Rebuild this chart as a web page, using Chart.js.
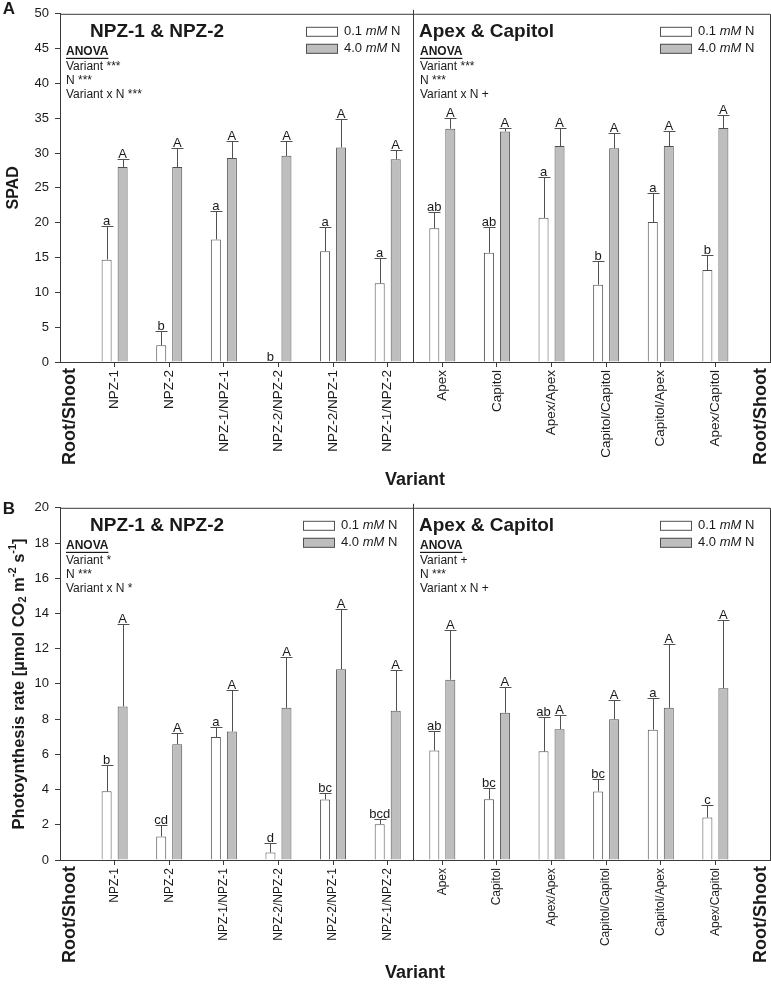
<!DOCTYPE html>
<html>
<head>
<meta charset="utf-8">
<script src="https://cdn.jsdelivr.net/npm/chart.js@4"></script>
<style>
  html, body { margin: 0; padding: 0; background: #fff; }
  canvas { display: block; }
</style>
</head>
<body>
<canvas id="spad-chart" width="771" height="494"></canvas>
<canvas id="photo-chart" width="771" height="493"></canvas>
<script>
// categories (first / last are the bold Root/Shoot markers, no data)
const variants = ['Root/Shoot', 'NPZ-1', 'NPZ-2', 'NPZ-1/NPZ-1', 'NPZ-2/NPZ-2', 'NPZ-2/NPZ-1', 'NPZ-1/NPZ-2',
  'Apex', 'Capitol', 'Apex/Apex', 'Capitol/Capitol', 'Capitol/Apex', 'Apex/Capitol', 'Root/Shoot'];

// panel A - SPAD
const spadLow = [null, 14.7, 2.4, 17.6, 0, 15.9, 11.3, 19.2, 15.7, 20.7, 11.1, 20.1, 13.2, null];
const spadLowErr = [null, 4.9, 2.0, 4.1, 0, 3.5, 3.6, 2.3, 3.7, 5.9, 3.4, 4.1, 2.1, null];
const spadLowLetters = ['', 'a', 'b', 'a', 'b', 'a', 'a', 'ab', 'ab', 'a', 'b', 'a', 'b', ''];
const spadHigh = [null, 28.0, 28.0, 29.3, 29.6, 30.8, 29.1, 33.5, 33.1, 31.0, 30.7, 31.0, 33.6, null];
const spadHighErr = [null, 1.1, 2.7, 2.5, 2.2, 4.1, 1.4, 1.5, 0.5, 2.6, 2.2, 2.2, 1.8, null];
const spadHighLetters = ['', 'A', 'A', 'A', 'A', 'A', 'A', 'A', 'A', 'A', 'A', 'A', 'A', ''];
const spadTicks = [0, 5, 10, 15, 20, 25, 30, 35, 40, 45, 50];
const spadAnovaNPZ = ['Variant ***', 'N ***', 'Variant x N ***'];
const spadAnovaApex = ['Variant ***', 'N ***', 'Variant x N +'];

// panel B - photosynthesis
const photoLow = [null, 3.9, 1.34, 6.98, 0.42, 3.44, 2.03, 6.22, 3.45, 6.17, 3.89, 7.4, 2.41, null];
const photoLowErr = [null, 1.5, 0.66, 0.56, 0.56, 0.39, 0.32, 1.09, 0.66, 1.93, 0.71, 1.8, 0.72, null];
const photoLowLetters = ['', 'b', 'cd', 'a', 'd', 'bc', 'bcd', 'ab', 'bc', 'ab', 'bc', 'a', 'c', ''];
const photoHigh = [null, 8.72, 6.58, 7.3, 8.64, 10.83, 8.47, 10.24, 8.36, 7.43, 7.99, 8.64, 9.75, null];
const photoHighErr = [null, 4.68, 0.66, 2.37, 2.86, 3.45, 2.31, 2.82, 1.46, 0.8, 1.1, 3.64, 3.87, null];
const photoHighLetters = ['', 'A', 'A', 'A', 'A', 'A', 'A', 'A', 'A', 'A', 'A', 'A', 'A', ''];
const photoTicks = [0, 2, 4, 6, 8, 10, 12, 14, 16, 18, 20];
const photoAnovaNPZ = ['Variant *', 'N ***', 'Variant x N *'];
const photoAnovaApex = ['Variant +', 'N ***', 'Variant x N +'];

const groupTitles = ['NPZ-1 & NPZ-2', 'Apex & Capitol'];

(function(){

    const FAMILY = '"Liberation Sans", Arial, Helvetica, sans-serif';
    const INK = '#1a1a1a';
    const LINE = '#3a3a3a';

    function _font(size, weight, style){
        return (style || 'normal') + ' ' + (weight || 'normal') + ' ' + size + 'px ' + FAMILY;
    }

    function _runsWidth(ctx, runs){
        let w = 0;
        runs.forEach(function(r){ ctx.font = r.font; w += ctx.measureText(r.text).width; });
        return w;
    }

    function _drawRuns(ctx, runs, x, y){
        let cx = x;
        runs.forEach(function(r){
            ctx.font = r.font;
            ctx.fillText(r.text, cx, y + (r.dy || 0));
            cx += ctx.measureText(r.text).width;
        });
    }

    function _legendRuns(conc){
        return [
            { text: conc + ' ', font: _font(13) },
            { text: 'mM', font: _font(13, 'normal', 'italic') },
            { text: ' N', font: _font(13) }
        ];
    }

    const decorPlugin = {
        id: 'panelDecor',
        afterDatasetsDraw: function(chart, args, opts){
            const ctx = chart.ctx;
            const area = chart.chartArea;
            const xs = chart.scales.x;
            const ys = chart.scales.y;
            ctx.save();

            // frame (top + right) and the group divider
            ctx.strokeStyle = LINE;
            ctx.lineWidth = 1;
            ctx.beginPath();
            ctx.moveTo(area.left, area.top + 0.5);
            ctx.lineTo(area.right + 0.5, area.top + 0.5);
            ctx.lineTo(area.right + 0.5, area.bottom);
            ctx.stroke();
            let divX = Math.round(xs.getPixelForValue(6.5)) - 1.5;
            ctx.beginPath();
            ctx.moveTo(divX, area.top - 4);
            ctx.lineTo(divX, area.bottom);
            ctx.stroke();

            // error bars + letters
            ctx.textAlign = 'center';
            ctx.textBaseline = 'alphabetic';
            ctx.fillStyle = INK;
            ctx.font = _font(13);
            chart.data.datasets.forEach(function(ds, di){
                let meta = chart.getDatasetMeta(di);
                meta.data.forEach(function(bar, i){
                    let v = ds.data[i];
                    if(v === null || v === undefined) return;
                    let e = ds.errors[i];
                    let capY = Math.round(ys.getPixelForValue(v + e)) + 0.5;
                    let bx = Math.round(bar.x) + 0.5;
                    if(e > 0){
                        ctx.strokeStyle = '#505050';
                        ctx.beginPath();
                        ctx.moveTo(bx, bar.y);
                        ctx.lineTo(bx, capY);
                        ctx.moveTo(bx - 6, capY);
                        ctx.lineTo(bx + 6, capY);
                        ctx.stroke();
                    }
                    ctx.fillText(ds.letters[i], bar.x, capY - 2);
                });
            });

            // Root/Shoot markers at both ends of the axis
            ctx.font = _font(18, 'bold');
            ctx.textAlign = 'right';
            ctx.textBaseline = 'middle';
            [[0, 10], [13, -9]].forEach(function(p){
                ctx.save();
                ctx.translate(xs.getPixelForValue(p[0]) + p[1], area.bottom + 6);
                ctx.rotate(-Math.PI / 2);
                ctx.fillText(variants[p[0]], 0, 0);
                ctx.restore();
            });

            // panel letter
            ctx.textAlign = 'center';
            ctx.font = _font(17, 'bold');
            ctx.fillText(opts.panelLetter, 9, opts.letterY);

            // group headings, ANOVA and legends
            opts.groups.forEach(function(g){
                let top = area.top;
                ctx.textAlign = 'left';
                ctx.textBaseline = 'middle';
                ctx.fillStyle = INK;
                ctx.font = _font(19, 'bold');
                ctx.fillText(g.title, g.titleX, top + 18);

                ctx.font = _font(12, 'bold');
                ctx.fillText('ANOVA', g.anovaX, top + 38);
                let uw = ctx.measureText('ANOVA').width;
                ctx.fillRect(g.anovaX, top + 44, uw, 1.2);
                ctx.font = _font(12);
                g.anova.forEach(function(line, li){
                    ctx.fillText(line, g.anovaX, top + 53 + li * 14);
                });

                [['0.1', '#ffffff'], ['4.0', '#bebebe']].forEach(function(item, ri){
                    let cy = top + 18 + ri * 17;
                    ctx.fillStyle = item[1];
                    ctx.fillRect(g.legendX, cy - 5, 32, 10);
                    ctx.strokeStyle = '#505050';
                    ctx.strokeRect(g.legendX + 0.5, cy - 4.5, 31, 9);
                    ctx.fillStyle = INK;
                    _drawRuns(ctx, _legendRuns(item[0]), g.legendX + 38, cy);
                });
            });

            // rich y title (sub/superscripts) when requested
            if(opts.yTitleRuns){
                ctx.save();
                ctx.fillStyle = INK;
                ctx.textAlign = 'left';
                ctx.textBaseline = 'middle';
                ctx.translate(opts.yTitleX, (area.top + area.bottom) / 2);
                ctx.rotate(-Math.PI / 2);
                let w = _runsWidth(ctx, opts.yTitleRuns);
                _drawRuns(ctx, opts.yTitleRuns, -w / 2, 0);
                ctx.restore();
            }

            ctx.restore();
        }
    };

    function _buildChart(canvasId, cfg){
        let canvas = document.getElementById(canvasId);
        return new Chart(canvas.getContext('2d'), {
            type: 'bar',
            data: {
                labels: variants,
                datasets: [
                    {
                        label: '0.1 mM N',
                        data: cfg.low, errors: cfg.lowErr, letters: cfg.lowLetters,
                        backgroundColor: '#ffffff', borderColor: '#505050', borderWidth: 1,
                        categoryPercentage: 0.586, barPercentage: 0.625
                    },
                    {
                        label: '4.0 mM N',
                        data: cfg.high, errors: cfg.highErr, letters: cfg.highLetters,
                        backgroundColor: '#bebebe', borderColor: '#505050', borderWidth: 1,
                        categoryPercentage: 0.586, barPercentage: 0.625
                    }
                ]
            },
            options: {
                responsive: false,
                animation: false,
                devicePixelRatio: 1,
                layout: { padding: { top: cfg.padTop, right: 1, left: 0, bottom: 0 } },
                plugins: {
                    legend: { display: false },
                    tooltip: { enabled: false },
                    panelDecor: {
                        panelLetter: cfg.panelLetter,
                        letterY: cfg.letterY,
                        yTitleRuns: cfg.yTitleRuns,
                        yTitleX: 19,
                        groups: [
                            { title: groupTitles[0], titleX: 90, anovaX: 66, legendX: cfg.legendX[0], anova: cfg.anova[0] },
                            { title: groupTitles[1], titleX: 419, anovaX: 420, legendX: cfg.legendX[1], anova: cfg.anova[1] }
                        ]
                    }
                },
                scales: {
                    x: {
                        type: 'category',
                        offset: false,
                        grid: { offset: false, drawOnChartArea: false, drawTicks: true, tickLength: 5, color: LINE },
                        border: { display: true, color: LINE, width: 1 },
                        ticks: {
                            autoSkip: false, minRotation: 90, maxRotation: 90, padding: 3,
                            color: INK, font: { family: FAMILY, size: cfg.xFont },
                            callback: function(value, index){
                                return (index === 0 || index === variants.length - 1) ? null : variants[index];
                            }
                        },
                        title: {
                            display: true, text: 'Variant', color: INK,
                            font: { family: '"Liberation Sans Narrow", ' + FAMILY, size: 18, weight: 'bold' },
                            padding: { top: 2, bottom: 3 }
                        },
                        afterFit: function(scale){
                            scale.height = cfg.xHeight;
                            scale.paddingLeft = 0;
                            scale.paddingRight = 0;
                        }
                    },
                    y: {
                        min: 0,
                        max: cfg.ticks[cfg.ticks.length - 1],
                        afterBuildTicks: function(scale){
                            scale.ticks = cfg.ticks.map(function(v){ return { value: v }; });
                        },
                        grid: { drawOnChartArea: false, drawTicks: true, tickLength: 5, color: LINE },
                        border: { display: true, color: LINE, width: 1 },
                        ticks: { padding: 6, color: INK, font: { family: FAMILY, size: 13 } },
                        title: {
                            display: !!cfg.yTitle, text: cfg.yTitle || '', color: INK,
                            font: { family: FAMILY, size: 16, weight: 'bold' },
                            padding: { top: 4, bottom: 0 }
                        },
                        afterFit: function(scale){
                            scale.width = 60;
                        }
                    }
                }
            },
            plugins: [decorPlugin]
        });
    }

    function _initializeCharts(){
        _buildChart('spad-chart', {
            low: spadLow, lowErr: spadLowErr, lowLetters: spadLowLetters,
            high: spadHigh, highErr: spadHighErr, highLetters: spadHighLetters,
            ticks: spadTicks,
            anova: [spadAnovaNPZ, spadAnovaApex],
            panelLetter: 'A', letterY: 9,
            legendX: [306, 660],
            padTop: 7, xHeight: 132, xFont: 13.5,
            yTitle: 'SPAD'
        });

        let bold = _font(16.5, 'bold');
        let small = _font(11, 'bold');
        _buildChart('photo-chart', {
            low: photoLow, lowErr: photoLowErr, lowLetters: photoLowLetters,
            high: photoHigh, highErr: photoHighErr, highLetters: photoHighLetters,
            ticks: photoTicks,
            anova: [photoAnovaNPZ, photoAnovaApex],
            panelLetter: 'B', letterY: 15,
            legendX: [303, 660],
            padTop: 10, xHeight: 127, xFont: 12,
            yTitleRuns: [
                { text: 'Photoynthesis rate [\u00b5mol CO', font: bold },
                { text: '2', font: small, dy: 4 },
                { text: ' m', font: bold },
                { text: '-2', font: small, dy: -6 },
                { text: ' s', font: bold },
                { text: '-1', font: small, dy: -6 },
                { text: ']', font: bold }
            ]
        });
    }

    window.onload = function(){
        _initializeCharts();
    };

})();
</script>
</body>
</html>
